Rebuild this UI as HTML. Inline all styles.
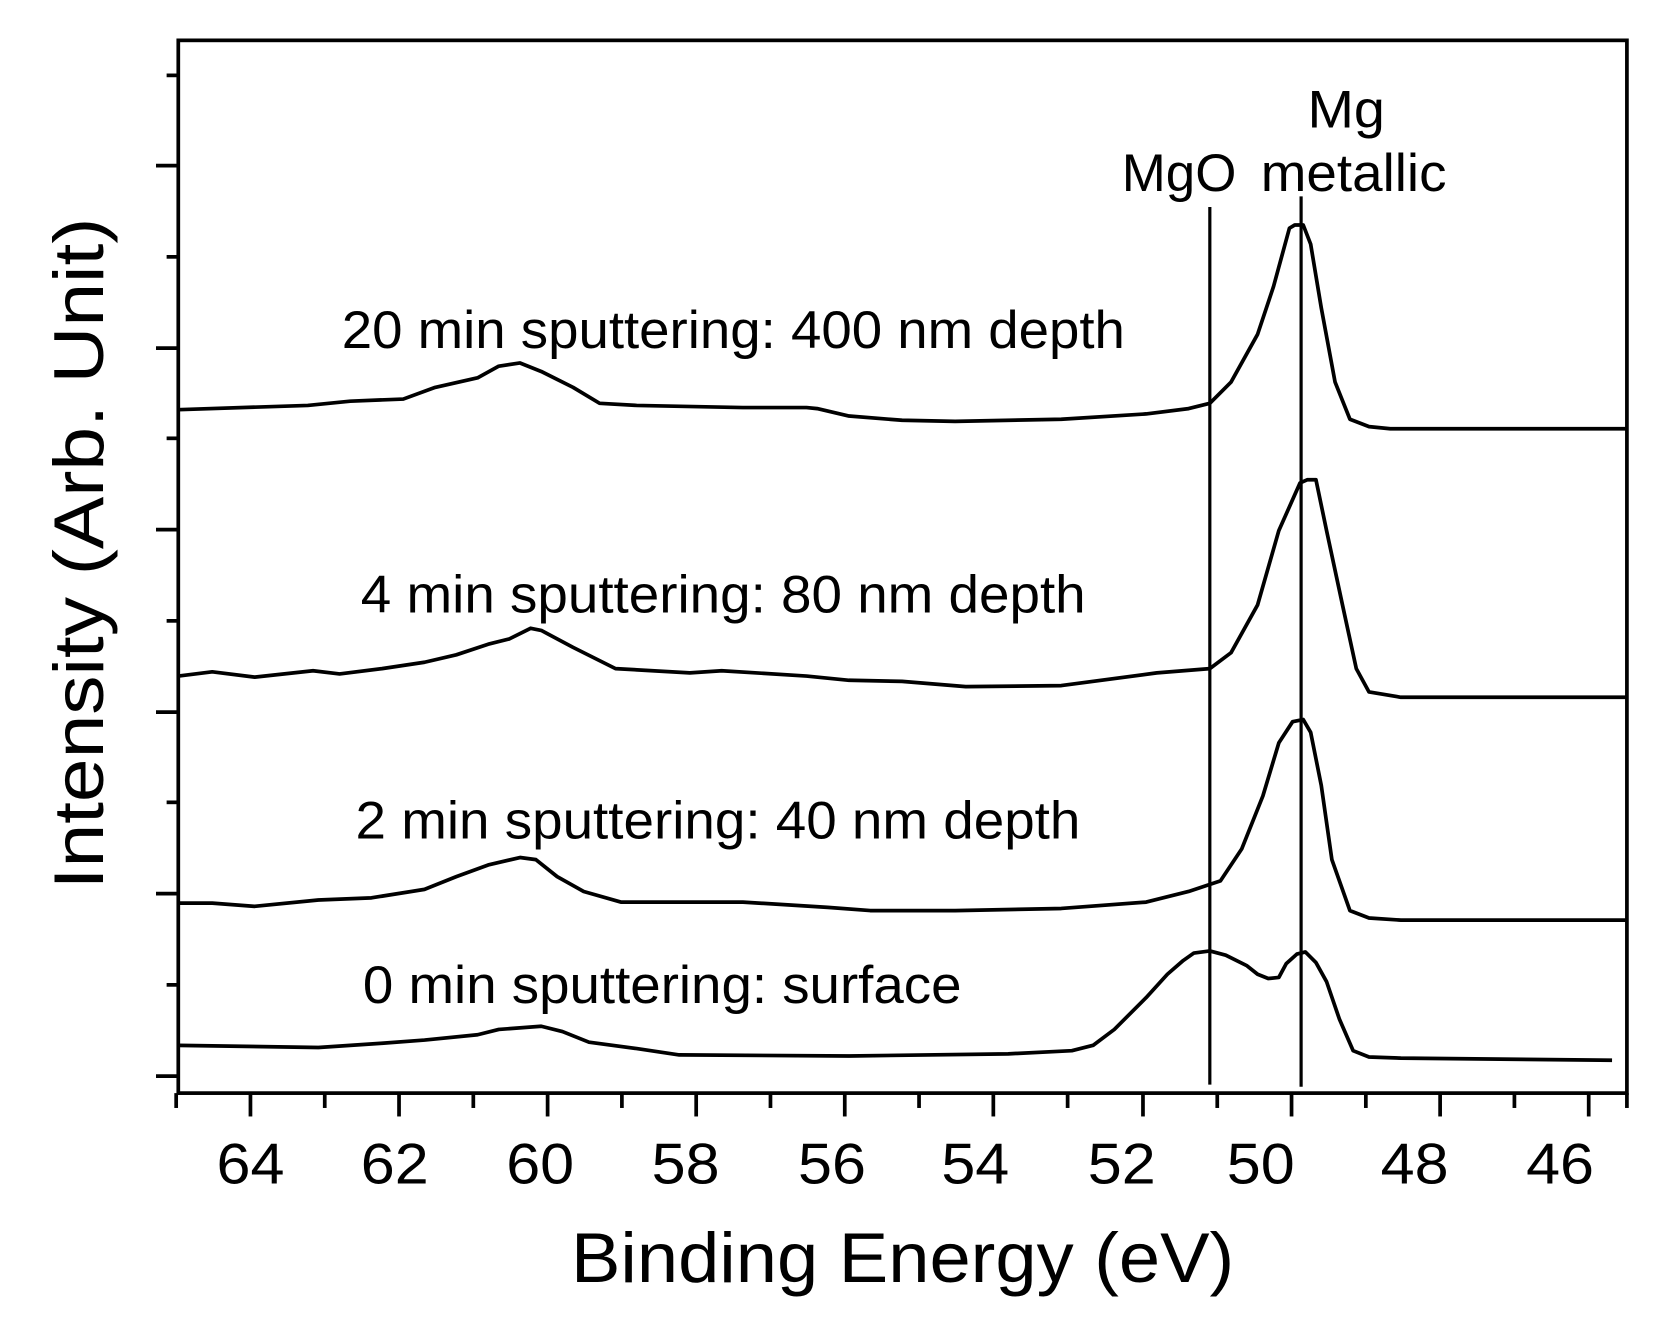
<!DOCTYPE html>
<html><head><style>html,body{margin:0;padding:0;background:#fff}svg{display:block}</style></head>
<body>
<svg width="1658" height="1328" viewBox="0 0 1562.3 1251.3" xmlns="http://www.w3.org/2000/svg" font-family="Liberation Sans, Arial, sans-serif">
<rect width="1562.3" height="1251.3" fill="#fff"/>
<rect x="168" y="38" width="1365" height="992" fill="none" stroke="#000" stroke-width="3.5"/>
<g stroke="#000" stroke-width="3.5">
<line x1="166" y1="1030" x2="166" y2="1044"/>
<line x1="236" y1="1030" x2="236" y2="1052"/><line x1="306" y1="1030" x2="306" y2="1044"/>
<line x1="376" y1="1030" x2="376" y2="1052"/><line x1="446" y1="1030" x2="446" y2="1044"/>
<line x1="516" y1="1030" x2="516" y2="1052"/><line x1="586" y1="1030" x2="586" y2="1044"/>
<line x1="656" y1="1030" x2="656" y2="1052"/><line x1="726" y1="1030" x2="726" y2="1044"/>
<line x1="796" y1="1030" x2="796" y2="1052"/><line x1="866" y1="1030" x2="866" y2="1044"/>
<line x1="936" y1="1030" x2="936" y2="1052"/><line x1="1006" y1="1030" x2="1006" y2="1044"/>
<line x1="1077" y1="1030" x2="1077" y2="1052"/><line x1="1147" y1="1030" x2="1147" y2="1044"/>
<line x1="1217" y1="1030" x2="1217" y2="1052"/><line x1="1287" y1="1030" x2="1287" y2="1044"/>
<line x1="1357" y1="1030" x2="1357" y2="1052"/><line x1="1427" y1="1030" x2="1427" y2="1044"/>
<line x1="1497" y1="1030" x2="1497" y2="1052"/><line x1="1533" y1="1030" x2="1533" y2="1044"/>
<line x1="168" y1="71" x2="157" y2="71"/><line x1="168" y1="156" x2="147" y2="156"/>
<line x1="168" y1="242" x2="157" y2="242"/><line x1="168" y1="328" x2="147" y2="328"/>
<line x1="168" y1="413" x2="157" y2="413"/><line x1="168" y1="499" x2="147" y2="499"/>
<line x1="168" y1="585" x2="157" y2="585"/><line x1="168" y1="671" x2="147" y2="671"/>
<line x1="168" y1="756" x2="157" y2="756"/><line x1="168" y1="842" x2="147" y2="842"/>
<line x1="168" y1="928" x2="157" y2="928"/><line x1="168" y1="1014" x2="147" y2="1014"/>
</g>
<g font-size="54" text-anchor="middle">
<text x="236" y="1115" textLength="64" lengthAdjust="spacingAndGlyphs">64</text><text x="372" y="1115" textLength="64" lengthAdjust="spacingAndGlyphs">62</text><text x="509" y="1115" textLength="64" lengthAdjust="spacingAndGlyphs">60</text>
<text x="646" y="1115" textLength="64" lengthAdjust="spacingAndGlyphs">58</text><text x="784" y="1115" textLength="64" lengthAdjust="spacingAndGlyphs">56</text><text x="919" y="1115" textLength="64" lengthAdjust="spacingAndGlyphs">54</text>
<text x="1057" y="1115" textLength="64" lengthAdjust="spacingAndGlyphs">52</text><text x="1188" y="1115" textLength="64" lengthAdjust="spacingAndGlyphs">50</text><text x="1333" y="1115" textLength="64" lengthAdjust="spacingAndGlyphs">48</text>
<text x="1470" y="1115" textLength="64" lengthAdjust="spacingAndGlyphs">46</text>
</g>
<text x="538" y="1208" font-size="66" textLength="625" lengthAdjust="spacingAndGlyphs">Binding Energy (eV)</text>
<text transform="translate(97,838) rotate(-90)" font-size="66" textLength="633" lengthAdjust="spacingAndGlyphs">Intensity (Arb. Unit)</text>
<g fill="none" stroke="#000" stroke-width="3.5" stroke-linejoin="round">
<polyline points="168,386 290,382 330,378 380,376 410,365 450,356 470,345 490,342 510,350 540,365 565,380 600,382 700,384 760,384 770,385 800,392 850,396 900,397 1000,395 1080,390 1120,385 1140,380 1160,360 1185,315 1200,270 1215,215 1220,212 1228,212 1235,230 1245,290 1258,360 1272,395 1290,402 1310,404 1533,404"/>
<polyline points="168,637 200,633 240,638 295,632 320,635 360,630 400,624 430,617 460,607 480,602 500,592 510,594 540,610 580,630 650,634 680,632 760,637 800,641 850,642 910,647 1000,646 1090,634 1140,630 1160,615 1185,570 1205,500 1225,455 1232,452 1240,452 1250,500 1265,570 1278,630 1290,652 1320,657 1533,657"/>
<polyline points="168,851 200,851 240,854 300,848 350,846 400,838 430,826 460,815 490,808 505,810 525,826 550,840 585,850 700,850 780,855 820,858 900,858 1000,856 1080,850 1120,840 1150,830 1170,800 1190,750 1205,700 1218,680 1228,678 1235,690 1245,740 1255,810 1272,858 1290,865 1320,867 1533,867"/>
<polyline points="168,985 300,987 360,983 400,980 450,975 470,970 510,967 530,972 555,982 600,988 640,994 800,995 950,993 1010,990 1030,985 1050,970 1080,940 1100,918 1115,905 1125,898 1140,896 1155,900 1175,910 1185,918 1195,922 1205,921 1212,908 1222,899 1230,897 1240,907 1250,925 1262,960 1275,990 1290,996 1320,997 1519,999"/>
</g>
<g stroke="#000" stroke-width="3">
<line x1="1140" y1="195" x2="1140" y2="1022"/>
<line x1="1226" y1="185" x2="1226" y2="1024"/>
</g>
<g font-size="50">
<text x="322" y="328" textLength="738" lengthAdjust="spacingAndGlyphs">20 min sputtering: 400 nm depth</text>
<text x="340" y="577" textLength="683" lengthAdjust="spacingAndGlyphs">4 min sputtering: 80 nm depth</text>
<text x="335" y="790" textLength="683" lengthAdjust="spacingAndGlyphs">2 min sputtering: 40 nm depth</text>
<text x="342" y="945" textLength="564" lengthAdjust="spacingAndGlyphs">0 min sputtering: surface</text>
<text x="1057" y="180" textLength="108" lengthAdjust="spacingAndGlyphs">MgO</text>
<text x="1232" y="120" textLength="73" lengthAdjust="spacingAndGlyphs">Mg</text>
<text x="1188" y="180" textLength="175" lengthAdjust="spacingAndGlyphs">metallic</text>
</g>
</svg>
</body></html>
